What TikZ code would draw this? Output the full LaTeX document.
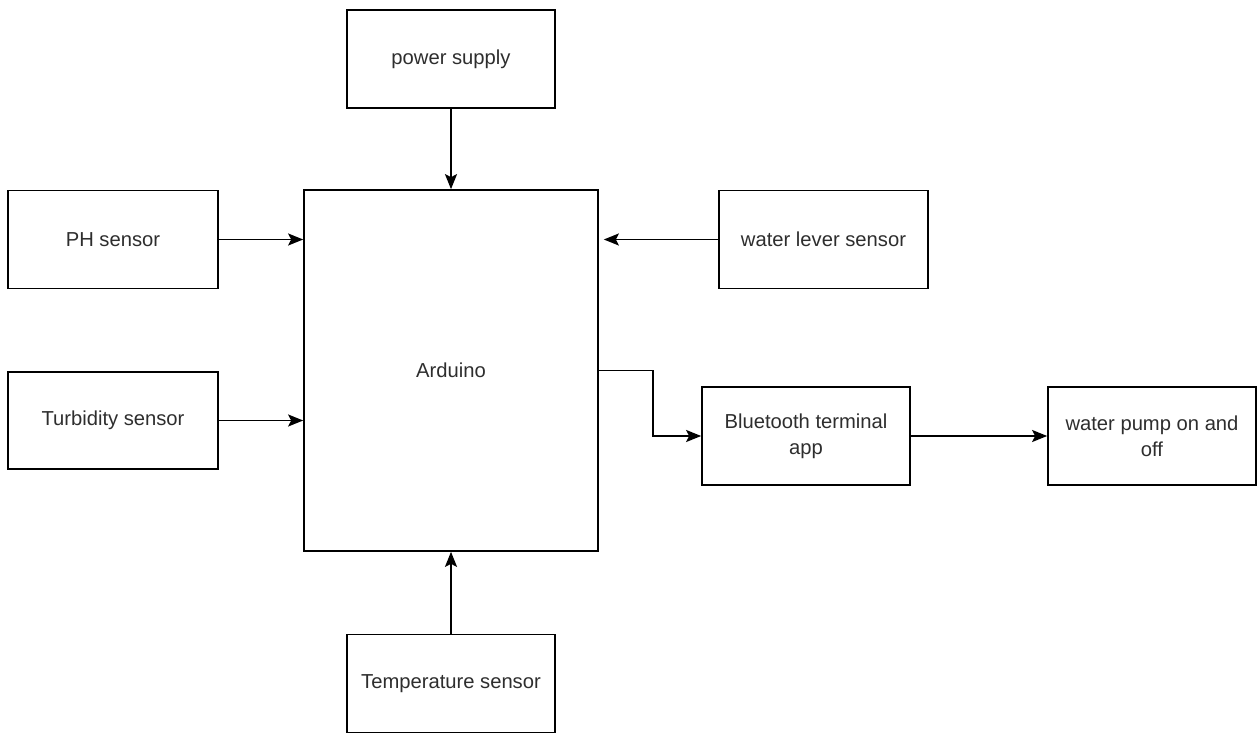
\documentclass[tikz,border=0pt]{standalone}
\usepackage{fontspec}
\setmainfont{Liberation Sans}
\usepackage{tikz}
\usetikzlibrary{arrows.meta,calc,positioning}

\begin{document}
\begin{tikzpicture}[
    x=0.02cm, y=-0.02cm,
    >={Stealth[length=0.3cm,width=0.24cm,inset=0.06cm]},
    every node/.style={font=\fontsize{11.5}{15}\selectfont,text=black!82},
    block/.style={draw=black,line width=1pt,fill=white,align=center,
                  minimum width=4.16cm,minimum height=1.96cm,inner sep=2pt},
    conn/.style={->,line width=1pt,black}
]
\useasboundingbox (0,0) rectangle (1258,733);

% blocks around the controller
\node[block,minimum width=5.88cm,minimum height=7.22cm] (ard) at (451,370.5) {Arduino};
\node[block] (pwr)   at (451,59)    {power supply};
\node[block,minimum width=4.2cm] (ph)   at (113,239.5) {PH sensor};
\node[block,minimum width=4.2cm,minimum height=1.94cm] (turb) at (113,420.5) {Turbidity sensor};
\node[block,minimum width=4.18cm] (lever) at (823.5,239.5) {water lever sensor};
\node[block] (temp)  at (451,683.5) {Temperature sensor};
\node[block] (bt)    at (806,436)   {Bluetooth terminal\\app};
\node[block] (pump)  at (1152,436)  {water pump on and\\off};

% inputs
\draw[conn] (pwr.south) -- (ard.north);
\draw[conn] (temp.north) -- (ard.south);
\draw[conn] (ph.east) -- (ph.east -| ard.west);
\draw[conn] (turb.east) -- (turb.east -| ard.west);
\draw[conn,shorten >=0.1cm] (lever.west) -- (lever.west -| ard.east);

% outputs
\draw[conn] (ard.east) -- ++(54,0) |- (bt.west);
\draw[conn] (bt.east) -- (pump.west);
\end{tikzpicture}
\end{document}
